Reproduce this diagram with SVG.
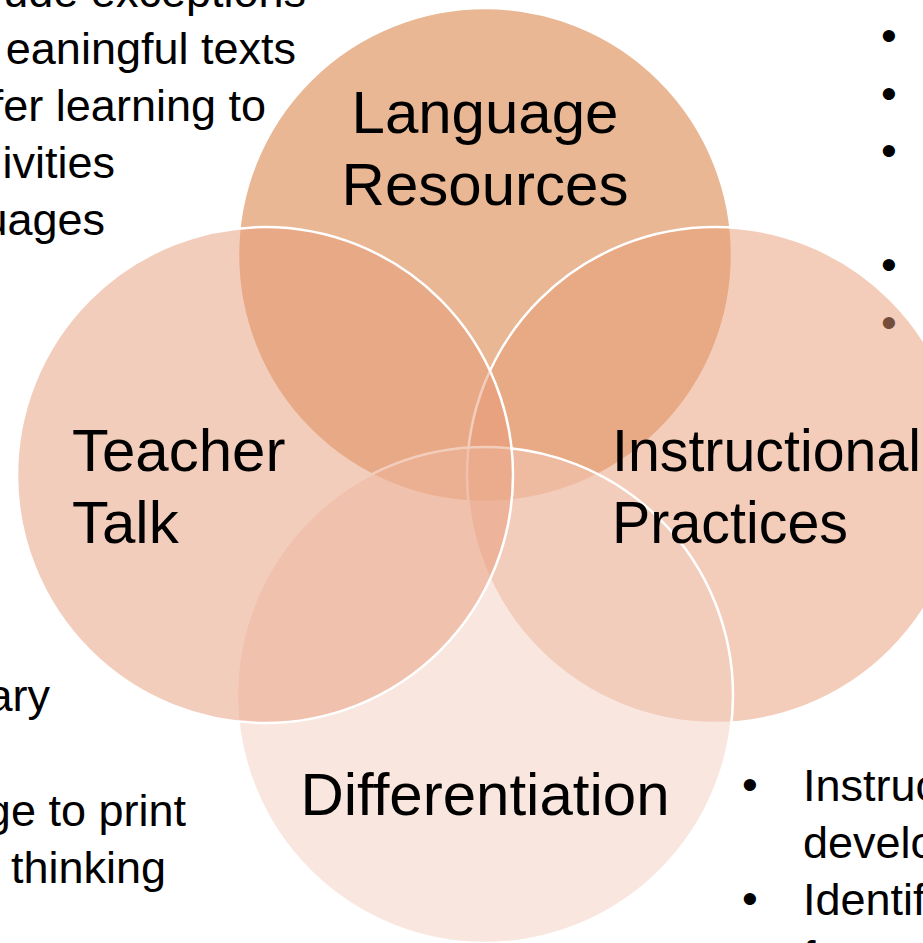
<svg xmlns="http://www.w3.org/2000/svg" width="923" height="943" viewBox="0 0 923 943">
<style>
.c{stroke:#fff;stroke-width:2.5;fill-opacity:.5}
.lbl{font-family:"Liberation Sans",Arial,sans-serif;font-size:60px;fill:#000}
.note{font-family:"Liberation Sans",Arial,sans-serif;font-size:45px;fill:#000}
.end{text-anchor:end}
.mid{text-anchor:middle}
</style>
<rect width="923" height="943" fill="#fff"/>
<g id="side-notes">
<g id="notes-top-left" class="note end">
<text x="306" y="7">ude exceptions</text>
<text x="296" y="64">eaningful texts</text>
<text x="266" y="121">fer learning to</text>
<text x="115" y="178">ivities</text>
<text x="105" y="235">uages</text>
</g>
<g id="notes-bottom-left" class="note end">
<text x="50" y="711">ary</text>
<text x="186" y="826">ge to print</text>
<text x="166" y="883">thinking</text>
</g>
<g id="notes-top-right" class="note mid">
<text x="889" y="51">•</text>
<text x="889" y="109">•</text>
<text x="889" y="166">•</text>
<text x="889" y="280">•</text>
<text x="889" y="338">•</text>
</g>
<g id="notes-bottom-right" class="note">
<text x="750" y="800" class="mid">•</text>
<text x="803" y="801">Instruc</text>
<text x="803" y="858">develo</text>
<text x="750" y="914" class="mid">•</text>
<text x="803" y="915">Identif</text>
<text x="803" y="972">f</text>
</g>
</g>
<g id="node-language-resources"><circle class="c" cx="485" cy="255" r="247" fill="rgb(211,111,41)"/></g>
<g id="node-instructional-practices"><circle class="c" cx="715" cy="475" r="248" fill="rgb(231,155,117)"/></g>
<g id="node-differentiation"><circle class="c" cx="485" cy="695" r="248" fill="rgb(243,205,189)"/></g>
<g id="node-teacher-talk"><circle class="c" cx="265" cy="475" r="248" fill="rgb(231,155,121)"/></g>
<g id="labels" class="lbl">
<g id="label-language-resources" class="mid"><text x="485" y="133">Language</text><text x="485" y="205">Resources</text></g>
<g id="label-teacher-talk"><text x="72" y="471">Teacher</text><text x="72" y="543">Talk</text></g>
<g id="label-instructional-practices"><text x="612" y="471" textLength="309" lengthAdjust="spacingAndGlyphs">Instructional</text><text x="612" y="543" textLength="236" lengthAdjust="spacingAndGlyphs">Practices</text></g>
<g id="label-differentiation" class="mid"><text x="485" y="815">Differentiation</text></g>
</g>
</svg>
